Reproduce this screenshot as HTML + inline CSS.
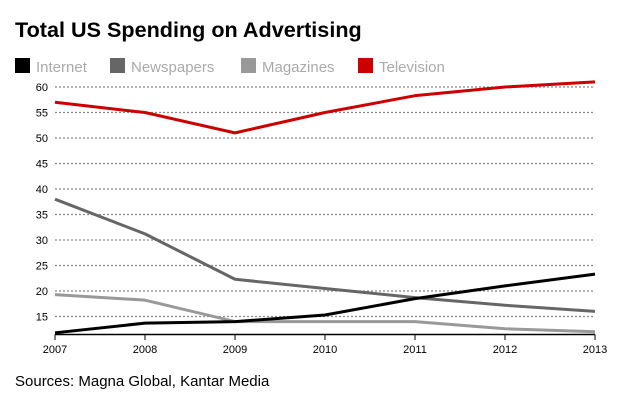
<!DOCTYPE html>
<html><head><meta charset="utf-8"><style>
body{margin:0;background:#fff;width:630px;height:400px;overflow:hidden;font-family:"Liberation Sans",Arial,sans-serif}
</style></head><body>
<svg width="630" height="400" font-family="Liberation Sans, Arial, sans-serif">
<text x="15" y="37" font-size="21.6" font-weight="bold" fill="#000">Total US Spending on Advertising</text>
<g id="legend"></g>
<g id="grid"></g>
<g id="series"></g>
<g id="axis"></g>
<text x="15" y="386" font-size="15" fill="#000">Sources: Magna Global, Kantar Media</text>
</svg>
<script>
const years=[2007,2008,2009,2010,2011,2012,2013];
const yTicks=[15,20,25,30,35,40,45,50,55,60];
const internet=[11.8,13.7,14,15.3,18.5,21,23.3];
const newspapers=[38,31.2,22.3,20.5,18.7,17.2,16];
const magazines=[19.3,18.2,14,14,14,12.6,12];
const television=[57,55,51,55,58.3,60,61];
const seriesNames=['Internet','Newspapers','Magazines','Television'];
const colors=['#000','#666','#999','#c00'];
const NS='http://www.w3.org/2000/svg';
const x=i=>55+(595-55)*(years[i]-years[0])/(years[years.length-1]-years[0]);
const y=v=>291-(v-20)*25.5/5;
function mk(tag,attrs,parent){const e=document.createElementNS(NS,tag);for(const k in attrs)e.setAttribute(k,attrs[k]);parent.appendChild(e);return e;}
const grid=document.getElementById('grid');
yTicks.forEach(t=>{
 const l=mk('line',{x1:55,x2:595,y1:y(t),y2:y(t),stroke:'#888','stroke-width':1.2,'stroke-dasharray':'2,2'},grid);
 
 
 const tx=mk('text',{x:48,y:y(t)+4,'font-size':11,'text-anchor':'end',fill:'#000'},grid);
 tx.textContent=t;
 
 
});
const axis=document.getElementById('axis');
const base=mk('line',{x1:55,x2:595,y1:334.5,y2:334.5,stroke:'#000','stroke-width':1.5},axis);


years.forEach((yr,i)=>{
 const tk=mk('line',{x1:x(i),x2:x(i),y1:334.5,y2:340,stroke:'#000','stroke-width':1},axis);
 
 
 const tx=mk('text',{x:x(i),y:353,'font-size':11,'text-anchor':'middle',fill:'#000'},axis);
 tx.textContent=yr;
 
 
});
const sg=document.getElementById('series');
[magazines,newspapers,internet,television].forEach((d,k)=>{
 const idx=[2,1,0,3][k];
 const p=mk('polyline',{points:d.map((v,i)=>x(i)+','+y(v)).join(' '),fill:'none',stroke:colors[idx],'stroke-width':3,'stroke-linejoin':'round'},sg);
 
 
});
const lg=document.getElementById('legend');
const lx=[15,110,241,358];
seriesNames.forEach((n,i)=>{
 const r=mk('rect',{x:lx[i],y:58,width:15,height:15,fill:colors[i]},lg);
 
 
 const t=mk('text',{x:lx[i]+21,y:72,'font-size':15,fill:'#aaa'},lg);
 t.textContent=n;
 
 
});
</script>
</body></html>
